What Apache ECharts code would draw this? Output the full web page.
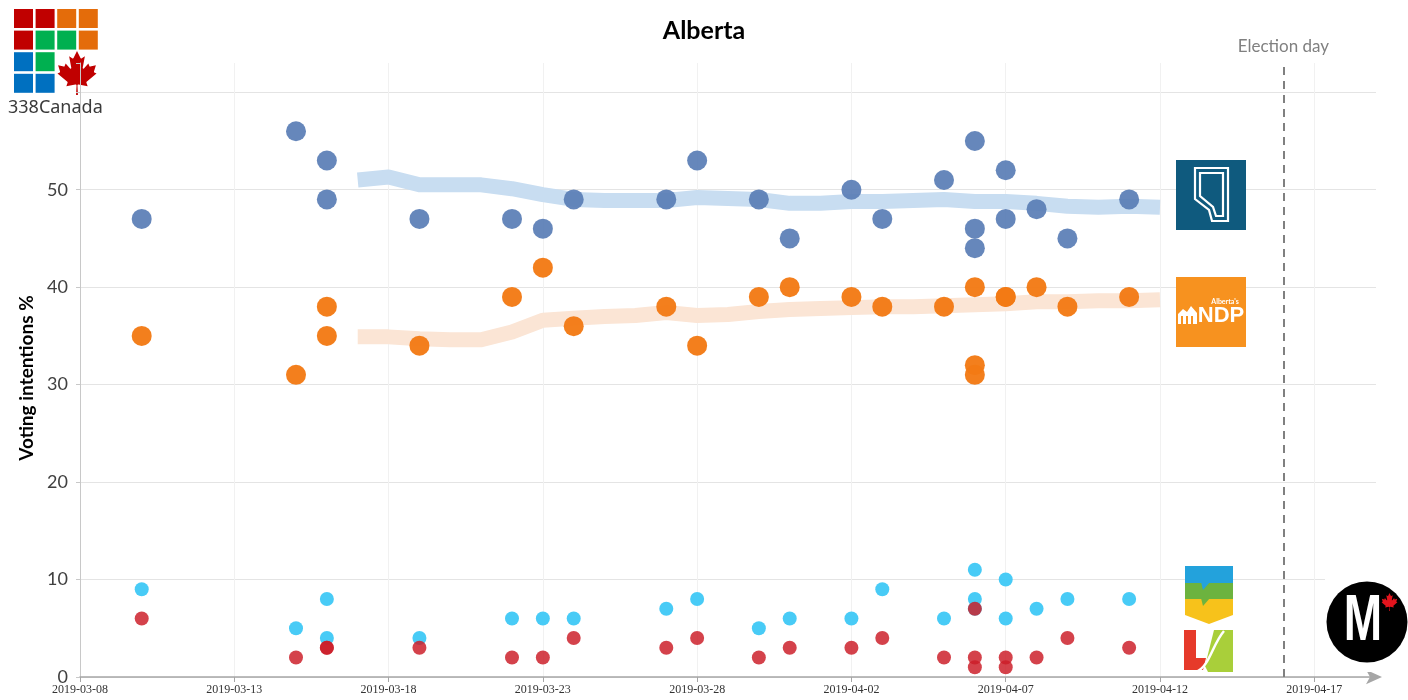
<!DOCTYPE html>
<html>
<head>
<meta charset="utf-8">
<title>Alberta</title>
<script src="https://cdn.jsdelivr.net/npm/echarts@6/dist/echarts.min.js"></script>
<style>
  html, body { margin: 0; padding: 0; background: #ffffff; }
  #chart { width: 1408px; height: 700px; }
</style>
</head>
<body>
<div id="chart"></div>
<script>
// Poll release dates (one entry per poll) and each party's share in that poll
const pollDates = [
  '2019-03-10', '2019-03-15', '2019-03-16', '2019-03-16', '2019-03-19',
  '2019-03-22', '2019-03-23', '2019-03-24', '2019-03-27', '2019-03-28',
  '2019-03-30', '2019-03-31', '2019-04-02', '2019-04-03', '2019-04-05',
  '2019-04-06', '2019-04-06', '2019-04-06', '2019-04-07', '2019-04-07',
  '2019-04-08', '2019-04-09', '2019-04-11'
];
const ucpPolls = [47, 56, 53, 49, 47, 47, 46, 49, 49, 53, 49, 45, 50, 47, 51, 55, 46, 44, 52, 47, 48, 45, 49];
const ndpPolls = [35, 31, 35, 38, 34, 39, 42, 36, 38, 34, 39, 40, 39, 38, 38, 32, 40, 31, 39, 39, 40, 38, 39];
const apPolls  = [9, 5, 8, 4, 4, 6, 6, 6, 7, 8, 5, 6, 6, 9, 6, 11, 8, 7, 10, 6, 7, 8, 8];
const libPolls = [6, 2, 3, 3, 3, 2, 2, 4, 3, 4, 2, 3, 3, 4, 2, 2, 1, 7, 2, 1, 2, 4, 3];

// Daily poll average
const trendDates = [
  '2019-03-17', '2019-03-18', '2019-03-19', '2019-03-20', '2019-03-21', '2019-03-22',
  '2019-03-23', '2019-03-24', '2019-03-25', '2019-03-26', '2019-03-27', '2019-03-28',
  '2019-03-29', '2019-03-30', '2019-03-31', '2019-04-01', '2019-04-02', '2019-04-03',
  '2019-04-04', '2019-04-05', '2019-04-06', '2019-04-07', '2019-04-08', '2019-04-09',
  '2019-04-10', '2019-04-11', '2019-04-12'
];
const ucpTrend = [51.0, 51.3, 50.5, 50.5, 50.5, 50.1, 49.5, 49.0, 48.9, 48.9, 48.9, 49.2, 49.1, 49.0,
                  48.6, 48.6, 48.8, 48.8, 48.9, 49.0, 48.8, 48.8, 48.6, 48.3, 48.2, 48.3, 48.2];
const ndpTrend = [34.9, 34.9, 34.7, 34.6, 34.6, 35.4, 36.6, 36.8, 37.0, 37.1, 37.4, 37.1, 37.2, 37.5,
                  37.7, 37.8, 37.9, 38.0, 38.0, 38.1, 38.2, 38.3, 38.5, 38.5, 38.6, 38.6, 38.7];

// Axis range and markers
const startDate = '2019-03-08';
const endDate = '2019-04-19';
const electionDate = '2019-04-16';
const yTicks = [0, 10, 20, 30, 40, 50];

const DAY = 86400000;
const t0 = Date.parse(startDate);
const dayIndex = d => Math.round((Date.parse(d) - t0) / DAY);
const dayLabel = n => new Date(t0 + n * DAY).toISOString().slice(0, 10);
const pairs = (dates, vals) => vals.map((v, i) => [dayIndex(dates[i]), v]);

// Maple leaf outline as an inline SVG image
const leafPath = 'm-90 2030 45-863a95 95 0 0 0-111-98l-859 151 116-320a65 65 0 0 0-20-73l-941-762 212-99a65 65 0 0 0 34-79l-186-572 542 115a65 65 0 0 0 73-38l105-247 423 454a65 65 0 0 0 111-57l-204-1052 327 189a65 65 0 0 0 91-27l332-652 332 652a65 65 0 0 0 91 27l327-189-204 1052a65 65 0 0 0 111 57l423-454 105 247a65 65 0 0 0 73 38l542-115-186 572a65 65 0 0 0 34 79l212 99-941 762a65 65 0 0 0-20 73l116 320-859-151a95 95 0 0 0-111 98l45 863z';
const leafImage = fill => 'data:image/svg+xml;charset=utf-8,' + encodeURIComponent(
  "<svg xmlns='http://www.w3.org/2000/svg' width='400' height='403' viewBox='-1900 -2000 3800 4030'>" +
  "<path fill='" + fill + "' d='" + leafPath + "'/></svg>");

// 338Canada mosaic
const mosaicColors = [
  ['#c00000', '#c00000', '#e46c0a', '#e46c0a'],
  ['#c00000', '#00b050', '#00b050', '#e46c0a'],
  ['#0070c0', '#00b050', null, null],
  ['#0070c0', '#0070c0', null, null]
];
const mosaic = [];
mosaicColors.forEach((row, r) => row.forEach((c, k) => {
  if (c) mosaic.push({ type: 'rect', shape: { x: 14 + k * 21.6, y: 9 + r * 21.6, width: 19, height: 19 }, style: { fill: c } });
}));

const chart = echarts.init(document.getElementById('chart'), null, { renderer: 'canvas' });

const option = {
  animation: false,
  backgroundColor: '#ffffff',
  title: {
    text: 'Alberta',
    left: 'center',
    top: 13,
    textStyle: { fontFamily: 'Lato', fontWeight: 'bold', fontSize: 25, color: '#000000' }
  },
  grid: { left: 80, right: 32, top: 63, bottom: 23 },
  xAxis: {
    type: 'value',
    min: 0,
    max: dayIndex(endDate),
    interval: 5,
    axisLine: {
      show: true,
      lineStyle: { color: '#a6a6a6', width: 1.5 },
      symbol: ['none', 'arrow'],
      symbolSize: [11, 16],
      symbolOffset: [0, 6]
    },
    axisTick: { show: true, length: 5, lineStyle: { color: '#a6a6a6' } },
    axisLabel: {
      showMaxLabel: false,
      margin: 7,
      fontFamily: 'Liberation Sans Narrow',
      fontSize: 12,
      color: '#333333',
      formatter: v => (v % 5 === 0 ? dayLabel(v) : '')
    },
    splitLine: { show: true, showMaxLine: false, lineStyle: { color: '#f1f1f1', width: 1 } }
  },
  yAxis: {
    type: 'value',
    min: 0,
    max: 63,
    interval: 10,
    name: 'Voting intentions %',
    nameLocation: 'middle',
    nameGap: 40,
    nameTextStyle: { fontFamily: 'Lato', fontWeight: 'bold', fontSize: 19, color: '#000000', padding: [0, 16, 0, 0] },
    axisLine: { show: true, lineStyle: { color: '#c8c8c8', width: 1 } },
    axisTick: { show: true, length: 4, lineStyle: { color: '#c8c8c8' } },
    axisLabel: {
      margin: 12,
      fontFamily: 'Lato',
      fontSize: 18,
      color: '#404040',
      formatter: v => (yTicks.includes(v) ? String(v) : '')
    },
    splitLine: { show: true, showMaxLine: false, lineStyle: { color: '#e4e4e4', width: 1 } }
  },
  series: [
    {
      name: 'UCP average', type: 'line', silent: true, z: 1,
      showSymbol: false, symbol: 'none',
      lineStyle: { width: 15, color: '#c8ddf1', cap: 'butt', join: 'round' },
      data: pairs(trendDates, ucpTrend)
    },
    {
      name: 'NDP average', type: 'line', silent: true, z: 1,
      showSymbol: false, symbol: 'none',
      lineStyle: { width: 15, color: '#fbe5d5', cap: 'butt', join: 'round' },
      data: pairs(trendDates, ndpTrend)
    },
    {
      name: 'UCP', type: 'scatter', z: 3, symbolSize: 20,
      itemStyle: { color: '#5a7eb6', opacity: 0.93 },
      data: pairs(pollDates, ucpPolls),
      markLine: {
        silent: true,
        symbol: 'none',
        lineStyle: { color: '#808080', width: 2, type: [8, 6] },
        label: {
          show: true, position: 'end', distance: 8,
          formatter: 'Election day',
          fontFamily: 'Lato', fontSize: 17, color: '#808080'
        },
        data: [{ xAxis: dayIndex(electionDate) }]
      }
    },
    {
      name: 'NDP', type: 'scatter', z: 3, symbolSize: 20,
      itemStyle: { color: '#f27a14', opacity: 0.96 },
      data: pairs(pollDates, ndpPolls)
    },
    {
      name: 'Alberta Party', type: 'scatter', z: 3, symbolSize: 14,
      itemStyle: { color: '#3ec8f5', opacity: 0.95 },
      data: pairs(pollDates, apPolls)
    },
    {
      name: 'Liberal', type: 'scatter', z: 4, symbolSize: 14,
      itemStyle: { color: '#cc1e29', opacity: 0.84 },
      data: pairs(pollDates, libPolls)
    }
  ],
  graphic: [
    // 338Canada mark
    ...mosaic,
    { type: 'image', style: { image: leafImage('#c00000'), x: 56, y: 51, width: 42, height: 44 } },
    { type: 'text', x: 8, y: 99, style: { text: '338Canada', fontFamily: 'Noto Sans', fontSize: 18, fill: '#3a3a3a' } },

    // UCP badge
    { type: 'rect', shape: { x: 1176, y: 160, width: 70, height: 70 }, style: { fill: '#0f5a7e' }, z: 10 },
    { type: 'polygon', shape: { points: [[1195, 168], [1228, 168], [1228, 221], [1212, 221], [1209, 210], [1195, 199]] },
      style: { fill: 'none', stroke: '#ffffff', lineWidth: 2.2 }, z: 11 },
    { type: 'polygon', shape: { points: [[1200, 173], [1223, 173], [1223, 216], [1216, 216], [1213, 207], [1200, 196]] },
      style: { fill: 'none', stroke: '#ffffff', lineWidth: 2.2 }, z: 11 },

    // NDP badge
    { type: 'rect', shape: { x: 1176, y: 277, width: 70, height: 70 }, style: { fill: '#f7921f' }, z: 10 },
    { type: 'text', x: 1225, y: 302, style: { text: "Alberta's", fontFamily: 'Lato', fontWeight: 'bold', fontSize: 7, fill: '#ffffff', align: 'center', verticalAlign: 'middle' }, z: 11 },
    { type: 'text', x: 1221, y: 316, style: { text: 'NDP', fontFamily: 'Liberation Sans', fontWeight: 'bold', fontSize: 22, fill: '#ffffff', align: 'center', verticalAlign: 'middle' }, z: 11 },
    { type: 'polygon', shape: { points: [[1178, 324], [1178, 314], [1183, 309], [1187, 312], [1191, 306], [1197, 313], [1197, 324]] },
      style: { fill: '#ffffff' }, z: 11 },
    { type: 'rect', shape: { x: 1181, y: 316, width: 2, height: 8 }, style: { fill: '#f7921f' }, z: 12 },
    { type: 'rect', shape: { x: 1186, y: 316, width: 2, height: 8 }, style: { fill: '#f7921f' }, z: 12 },
    { type: 'rect', shape: { x: 1191, y: 316, width: 2, height: 8 }, style: { fill: '#f7921f' }, z: 12 },

    // Alberta Party shield
    { type: 'rect', shape: { x: 1185, y: 566, width: 48, height: 17 }, style: { fill: '#23a2dc' }, z: 10 },
    { type: 'rect', shape: { x: 1185, y: 583, width: 48, height: 16 }, style: { fill: '#6cb33f' }, z: 10 },
    { type: 'polygon', shape: { points: [[1185, 599], [1233, 599], [1233, 615], [1209, 624], [1185, 615]] }, style: { fill: '#f7c21b' }, z: 10 },
    { type: 'polygon', shape: { points: [[1201, 582], [1210, 582], [1203, 590]] }, style: { fill: '#23a2dc' }, z: 11 },
    { type: 'polygon', shape: { points: [[1201, 598], [1210, 598], [1203, 606]] }, style: { fill: '#6cb33f' }, z: 11 },

    // Liberal mark
    { type: 'polygon', shape: { points: [[1184, 630], [1196, 630], [1196, 658], [1206, 658], [1203, 670], [1184, 670]] }, style: { fill: '#e63a2a' }, z: 10 },
    { type: 'polygon', shape: { points: [[1214, 630], [1233, 630], [1233, 672], [1208, 672], [1205, 666]] }, style: { fill: '#a9cf3a' }, z: 10 },
    { type: 'bezierCurve', shape: { x1: 1196, y1: 672, x2: 1224, y2: 631, cpx1: 1210, cpy1: 666, cpx2: 1212, cpy2: 645 },
      style: { fill: 'none', stroke: '#ffffff', lineWidth: 2.5 }, z: 11 },

    // M badge
    { type: 'rect', shape: { x: 1325, y: 572, width: 83, height: 100 }, style: { fill: '#ffffff' }, z: 10 },
    { type: 'circle', shape: { cx: 1367, cy: 622, r: 40.5 }, style: { fill: '#000000' }, z: 11 },
    { type: 'text', x: 1363, y: 622, scaleX: 0.72, style: { text: 'M', fontFamily: 'Liberation Sans', fontWeight: 'bold', fontSize: 64, fill: '#ffffff', align: 'center', verticalAlign: 'middle' }, z: 12 },
    { type: 'image', style: { image: leafImage('#e3141d'), x: 1381, y: 593, width: 17, height: 18 }, z: 12 }
  ]
};

chart.setOption(option);
</script>
</body>
</html>
